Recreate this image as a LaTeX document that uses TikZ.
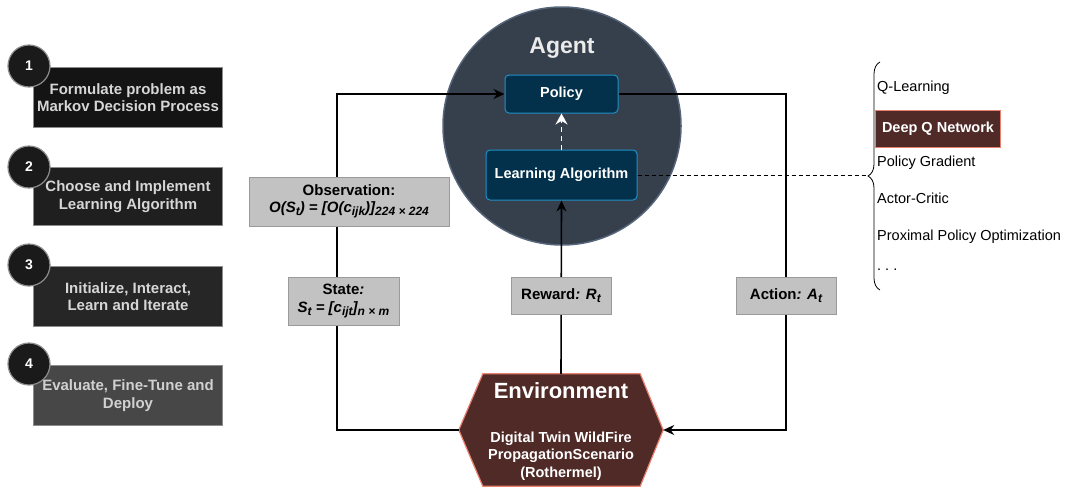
\documentclass[tikz,border=0pt]{standalone}
\usepackage{fontspec}
\setmainfont{Liberation Sans}
\usetikzlibrary{arrows.meta,decorations.pathreplacing}
\usepackage{xcolor}
\definecolor{stepedge}{HTML}{8C8C8C}
\definecolor{steptext}{HTML}{D6D6D6}
\definecolor{numfill}{HTML}{1A1A1A}
\definecolor{agentbg}{HTML}{363F4C}
\definecolor{agentedge}{HTML}{56657A}
\definecolor{policybg}{HTML}{03304A}
\definecolor{policyedge}{HTML}{2090C8}
\definecolor{tagbg}{HTML}{C2C2C2}
\definecolor{tagedge}{HTML}{9A9A9A}
\definecolor{envbg}{HTML}{4F2A27}
\definecolor{envedge}{HTML}{E8806F}
\newcommand{\lowsub}[1]{\raisebox{-3pt}{\fontsize{12}{12}\selectfont #1}}

\begin{document}
\begin{tikzpicture}[x=1pt, y=-1pt,
        stepbox/.style={draw=stepedge, line width=1, anchor=north west, minimum width=189, minimum height=60, text=steptext, align=center, font=\fontsize{15}{17.5}\selectfont\bfseries},
        stepnum/.style={circle, draw=stepedge, fill=numfill, line width=1.2, minimum size=42, inner sep=0, text=white, font=\fontsize{14}{16}\selectfont\bfseries},
        inbox/.style={draw=policyedge, fill=policybg, line width=1, rounded corners=4, text=white, font=\fontsize{14.5}{16}\selectfont\bfseries},
        tag/.style={draw=tagedge, fill=tagbg, line width=1, align=center, inner sep=0, font=\fontsize{15}{17.5}\selectfont\bfseries},
        flow/.style={line width=1.6, -{Stealth[length=11, width=10]}},
        algo/.style={anchor=west, inner sep=0, font=\fontsize{14.5}{16}\selectfont}]
    \useasboundingbox (0,0) rectangle (1070,490);

    \node[stepbox, fill=black!92] (step1) at (33,67) {Formulate problem as\\Markov Decision Process};
    \node[stepbox, fill=black!88, minimum height=58] (step2) at (33,167) {Choose and Implement\\Learning Algorithm};
    \node[stepbox, fill=black!85] (step3) at (33,266) {Initialize, Interact,\\Learn and Iterate};
    \node[stepbox, fill=black!72, text=black!18] (step4) at (33,365) {Evaluate, Fine-Tune and\\Deploy};
    \node[stepnum] (num1) at (29,66) {1};
    \node[stepnum] (num2) at (29,167) {2};
    \node[stepnum] (num3) at (29,265) {3};
    \node[stepnum] (num4) at (29,364) {4};

    \node[circle, fill=agentbg, draw=agentedge, line width=1.5, minimum size=238] (agent) at (562,126) {};
    \node[text=white!92!black, font=\fontsize{23}{25}\selectfont\bfseries] (agentlbl) at (562,48) {Agent};
    \node[inbox, minimum width=113, minimum height=38] (policy) at (561.5,94) {Policy};
    \node[inbox, minimum width=151, minimum height=50] (learn) at (561.5,175) {Learning Algorithm};

    \node[minimum width=204, minimum height=112, inner sep=0] (env) at (561,430) {};
    \filldraw[fill=envbg, draw=envedge, line width=1.2] (env.west) -- ([xshift=24]env.north west) -- ([xshift=-23]env.north east) -- (env.east) -- ([xshift=-23]env.south east) -- ([xshift=24]env.south west) -- cycle;
    \node[text=white, font=\fontsize{22}{24}\selectfont\bfseries] (envlbl) at (561,391) {Environment};
    \node[text=white, align=center, font=\fontsize{14.5}{17.5}\selectfont\bfseries] (envtext) at (561,456) {Digital Twin WildFire\\PropagationScenario\\(Rothermel)};

    \coordinate (lc) at (337,0);
    \coordinate (rc) at (786,0);
    \coordinate (bracetip) at (867,175);
    \draw[flow] (env.west) -| (lc |- policy.west) -- (policy.west);
    \draw[flow] (policy.east) -| (rc |- env.east) -- (env.east);
    \draw[flow] (env.north) -- (learn.south);
    \draw[white, line width=1.6, dash pattern=on 5 off 4, -{Stealth[length=11, width=12]}] (learn.north) -- (policy.south);
    \draw[line width=1, dash pattern=on 4 off 3] (learn.east) -- (bracetip);

    \node[tag, minimum width=200, minimum height=49] (obs) at (349,201.5) {Observation:\\\textit{O(S\lowsub{t}) = [O(c\lowsub{ijk})]\lowsub{224 × 224}}};
    \node[tag, minimum width=111, minimum height=48] (state) at (343.5,301) {State\textit{:}\\\textit{S\lowsub{t} = [c\lowsub{ijt}]\lowsub{n × m}}};
    \node[tag, minimum width=100, minimum height=37] (reward) at (561,295.5) {Reward\textit{: R\lowsub{t}}};
    \node[tag, minimum width=100, minimum height=37] (action) at (786,295.5) {Action\textit{: A\lowsub{t}}};

    \draw[line width=0.8, decorate, decoration={brace, amplitude=12}] (880,290) -- (880,62);
    \node[algo] (qlearn) at (877,88) {Q-Learning};
    \node[algo, fill=envbg, draw=envedge, line width=1, minimum width=125, minimum height=37, text=white, font=\fontsize{14.5}{16}\selectfont\bfseries] (dqn) at (875,128.5) {Deep Q Network};
    \node[algo] (pg) at (877,163) {Policy Gradient};
    \node[algo] (ac) at (877,198) {Actor-Critic};
    \node[algo] (ppo) at (877,237) {Proximal Policy Optimization};
    \node[algo] (more) at (877,270) {.\hspace{4pt}.\hspace{4pt}.};
\end{tikzpicture}
\end{document}
